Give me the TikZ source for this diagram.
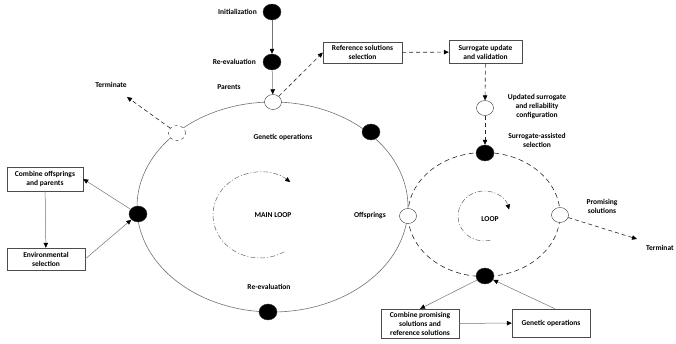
\documentclass[tikz,border=0pt]{standalone}
\usepackage{fontspec}
\setmainfont{Carlito}
\usepackage{tikz}
\usetikzlibrary{arrows.meta,positioning,shapes.geometric}

\begin{document}
\begin{tikzpicture}[
    x=1pt, y=1pt,
    >={Triangle[length=5pt, width=4.5pt, color=black]},
    dot/.style={ellipse, draw=black!80, fill=#1, inner sep=0pt,
                minimum width=18pt, minimum height=16pt},
    dot/.default=black,
    hollow/.style={dot=white, minimum width=17pt, minimum height=15pt},
    box/.style={draw=black!70, fill=white, align=center, inner sep=1pt,
                font=\fontsize{7.5}{9}\selectfont\bfseries, text=black,
                minimum width=#1},
    box/.default=78pt,
    lbl/.style={font=\fontsize{7.5}{9}\selectfont\bfseries, text=black,
                align=center},
    arr/.style={->, color=black!55, line width=0.5pt},
    darr/.style={->, color=black!85, line width=0.6pt,
                 dash pattern=on 4pt off 3pt},
    spin/.style={->, color=black!60, line width=0.5pt,
                 dash pattern=on 5pt off 2pt on 1pt off 2pt},
  ]
  \useasboundingbox (0,0) rectangle (676,344);

  % the two loops
  \draw[black!55, line width=0.6pt] (272.5,137) ellipse [x radius=135.5, y radius=105];
  \draw[black!85, line width=0.6pt, dash pattern=on 5pt off 3.5pt]
    (484,129.5) ellipse [x radius=76, y radius=62];
  \draw[spin] (260,129) ++(-59:47 and 43)
    arc[start angle=-59, end angle=-310, x radius=47, y radius=43];
  \draw[spin] (484,128) ++(-76:26 and 25)
    arc[start angle=-76, end angle=-345, x radius=26, y radius=25];

  \node[dot] (init) at (272,332) {};
  \node[dot] (reeval) at (272,282) {};
  \node[hollow] (parents) at (273,242) {};
  \node[dot] (genop) at (371,212) {};
  \node[hollow, dashed] (term) at (177,211) {};
  \node[dot] (envsel) at (138,130) {};
  \node[hollow] (offspr) at (408,128) {};
  \node[dot] (reeval2) at (268,32) {};
  \node[hollow] (updated) at (485,236) {};
  \node[dot] (sas) at (485,191) {};
  \node[hollow] (promis) at (560,129) {};
  \node[dot] (sgen) at (485,68) {};
  \coordinate (termtip) at (127,247);
  \coordinate (rtip) at (637,105);

  \node[box=79pt, minimum height=21pt] (refsel) at (362.5,291.5) {Reference solutions\\selection};
  \node[box=73pt, minimum height=23pt] (surr) at (485.5,292) {Surrogate update\\and validation};
  \node[box=76pt, minimum height=24pt] (comb) at (45,165) {Combine offsprings\\and parents};
  \node[box=78pt, minimum height=22pt] (env) at (46,85) {Environmental\\selection};
  \node[box=78pt, minimum height=29pt] (combprom) at (420,20.5) {Combine promising\\solutions and\\reference solutions};
  \node[box=78pt, minimum height=28pt] (genbox) at (551,21) {Genetic operations};

  \node[lbl, left=2.5pt of init] (initlbl) {Initialization};
  \node[lbl, left=3.5pt of reeval] (reevallbl) {Re-evaluation};
  \node[lbl] (parentslbl) at (229,257) {Parents};
  \node[lbl] (geneticlbl) at (283,207) {Genetic operations};
  \node[lbl] (termlbl) at (111,259) {Terminate};
  \node[lbl] (mainlbl) at (273,129) {MAIN LOOP};
  \node[lbl, left=10pt of offspr] (offsprlbl) {Offsprings};
  \node[lbl] (reeval2lbl) at (269,57) {Re-evaluation};
  \node[lbl] (updatedlbl) at (537,237) {Updated surrogate\\and reliability\\configuration};
  \node[lbl] (saslbl) at (537,204) {Surrogate-assisted\\selection};
  \node[lbl] (promislbl) at (602,138) {Promising\\solutions};
  \node[lbl] (looplbl) at (490,125) {LOOP};
  \node[lbl, anchor=west] (termrlbl) at (642.5,96) {Terminat};

  \draw[arr] (init) -- (reeval);
  \draw[arr] (reeval) -- (parents);
  \draw[darr] (parents) -- (refsel.west);
  \draw[darr] (refsel) -- (surr);
  \draw[darr] (surr) -- (updated);
  \draw[darr] (updated) -- (sas);
  \draw[darr] (term) -- (termtip);
  \draw[darr] (promis) -- (rtip);
  \draw[arr] (envsel) -- (comb.east);
  \draw[arr] (comb) -- (env);
  \draw[arr] (env.east) -- (envsel);
  \draw[arr] (sgen) -- (combprom.north);
  \draw[arr] ([xshift=4pt]genbox.north) -- (sgen);
  \draw[arr] (combprom) -- (genbox);
\end{tikzpicture}
\end{document}
